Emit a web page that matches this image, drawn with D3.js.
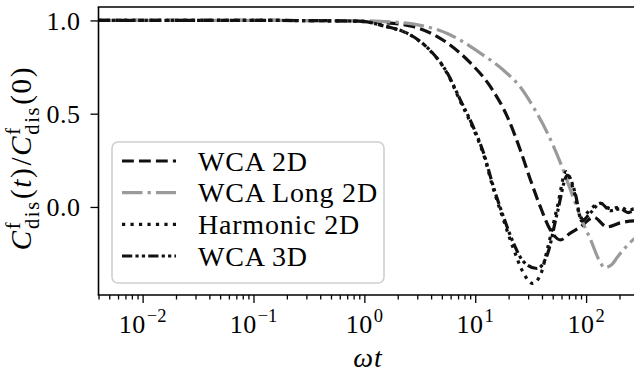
<!DOCTYPE html>
<html>
<head>
<meta charset="utf-8">
<script src="https://cdn.jsdelivr.net/npm/d3@7"></script>
<style>
  html, body { margin: 0; padding: 0; background: #fff; }
  svg { display: block; }
  text { font-family: "Liberation Serif", "DejaVu Serif", serif; fill: #000; }
</style>
</head>
<body>
<svg id="chart" width="634" height="372"></svg>
<script>
// Normalised dissipative force autocorrelation vs. omega*t, four systems.
const wca2dT    = [0.004, 0.1, 0.5, 1, 1.4, 2.8, 5.6, 9.05, 13.7, 19.5, 25.5, 31.5, 38.7, 47.6, 58.7, 72, 89, 117, 155, 204, 273, 300];
const wca2dC    = [1, 1, 0.999, 0.995, 0.99, 0.966, 0.879, 0.772, 0.645, 0.483, 0.305, 0.145, 0.0, -0.123, -0.177, -0.14, -0.107, -0.055, -0.107, -0.085, -0.075, -0.075];

const wcaLongT  = [0.004, 0.1, 1, 1.4, 2.8, 5.6, 11.1, 17.9, 25.5, 33.4, 44.8, 58.7, 72.3, 89.1, 110, 135, 146, 170, 191, 250, 300];
const wcaLongC  = [1, 1, 0.998, 0.995, 0.98, 0.93, 0.825, 0.734, 0.643, 0.536, 0.396, 0.236, 0.091, -0.054, -0.177, -0.30, -0.325, -0.31, -0.27, -0.19, -0.15];

const harmonicT = [0.004, 0.1, 0.7, 1, 1.4, 2.8, 3.9, 5.6, 7.35, 9.6, 11.9, 14.6, 18, 22, 27, 33, 39, 45, 55, 66, 78, 91, 110, 135, 166, 204, 240, 273, 300];
const harmonicC = [1, 1, 0.997, 0.994, 0.975, 0.91, 0.84, 0.715, 0.565, 0.42, 0.28, 0.095, -0.07, -0.22, -0.35, -0.41, -0.36, -0.22, 0.0, 0.19, 0.08, -0.06, -0.01, 0.02, -0.01, 0.0, -0.02, -0.01, -0.015];

const wca3dT    = [0.004, 0.1, 0.7, 1, 1.4, 2.8, 3.9, 5.6, 7.35, 9.6, 11.9, 14.6, 18, 22, 27, 36, 45, 55, 68, 80, 91, 110, 135, 166, 204, 240, 273, 300];
const wca3dC    = [1, 1, 0.997, 0.994, 0.975, 0.911, 0.841, 0.718, 0.573, 0.429, 0.289, 0.107, -0.054, -0.19, -0.29, -0.33, -0.25, -0.03, 0.17, 0.07, -0.075, -0.03, 0.02, -0.02, -0.01, -0.03, -0.02, -0.02];

const seriesNames  = ["WCA 2D", "WCA Long 2D", "Harmonic 2D", "WCA 3D"];
const seriesTimes  = [wca2dT, wcaLongT, harmonicT, wca3dT];
const seriesValues = [wca2dC, wcaLongC, harmonicC, wca3dC];

const xMajorTicks = [0.01, 0.1, 1, 10, 100];
const xMajorExps  = ["\u22122", "\u22121", "0", "1", "2"];
const yTicks      = [0, 0.5, 1.0];

// line styles (matplotlib-like dash patterns scaled by line width)
const LW = 3.2;
const styles = [
  { color: "#111", dash: [3.7 * LW, 1.6 * LW] },
  { color: "#9a9a9a", dash: [6.4 * LW, 1.6 * LW, 1 * LW, 1.6 * LW] },
  { color: "#111", dash: [1 * LW, 1.65 * LW] },
  { color: "#111", dash: [3.2 * LW, 1 * LW, 1 * LW, 1 * LW, 1 * LW, 1 * LW] }
];

const svg = d3.select("#chart");
const plotL = 98.5, plotR = 639, plotT = 7, plotB = 295;

const x = d3.scaleLog().domain([0.004, 300]).range([plotL, plotR]);
const y = d3.scaleLinear().domain([-0.472, 1.072]).range([plotB, plotT]);

svg.append("defs").append("clipPath").attr("id", "plotClip")
  .append("rect").attr("x", plotL).attr("y", plotT).attr("width", plotR - plotL).attr("height", plotB - plotT);

// curves
const line = d3.line()
  .x(d => x(d[0]))
  .y(d => y(d[1]))
  .curve(d3.curveMonotoneX);

const curves = svg.append("g").attr("clip-path", "url(#plotClip)");
seriesNames.forEach((name, i) => {
  const pts = seriesTimes[i].map((t, k) => [t, seriesValues[i][k]]);
  curves.append("path")
    .datum(pts)
    .attr("d", line)
    .attr("fill", "none")
    .attr("stroke", styles[i].color)
    .attr("stroke-width", LW)
    .attr("stroke-dasharray", styles[i].dash.join(","))
    .attr("stroke-linejoin", "round");
});

// x axis: major ticks
const xAxis = svg.append("g").attr("transform", `translate(0,${plotB})`);
xAxis.call(d3.axisBottom(x).tickValues(xMajorTicks).tickSize(8).tickFormat(""));
// minor ticks
const minor = [];
for (let e = -3; e <= 2; e++) {
  for (let m = 2; m <= 9; m++) {
    const v = m * Math.pow(10, e);
    if (v >= 0.004 && v <= 300) minor.push(v);
  }
}
xAxis.append("g").call(d3.axisBottom(x).tickValues(minor).tickSize(4.5).tickFormat(""));
xAxis.selectAll(".domain").remove();
xAxis.selectAll("line").attr("stroke", "#000").attr("stroke-width", 1.3);

// x tick labels: 10 with superscript exponent
xMajorTicks.forEach((v, i) => {
  const t = svg.append("text")
    .attr("x", x(v))
    .attr("y", 332.5)
    .attr("text-anchor", "middle")
    .attr("font-size", 26);
  t.append("tspan").attr("letter-spacing", 0.5).text("10");
  t.append("tspan").attr("dx", 1).attr("dy", -10.5).attr("font-size", 18.5).text(xMajorExps[i]);
});

// y axis
const yAxis = svg.append("g").attr("transform", `translate(${plotL},0)`);
yAxis.call(d3.axisLeft(y).tickValues(yTicks).tickSize(8).tickPadding(10).tickFormat(d3.format(".1f")));
yAxis.selectAll(".domain").remove();
yAxis.selectAll("line").attr("stroke", "#000").attr("stroke-width", 1.3);
yAxis.selectAll("text")
  .attr("font-size", 26)
  .attr("font-family", "Liberation Serif, DejaVu Serif, serif")
  .attr("letter-spacing", 0.5)
  .attr("dy", "0.34em");

// spines
svg.append("line").attr("x1", plotL).attr("x2", plotL).attr("y1", plotT).attr("y2", plotB)
  .attr("stroke", "#000").attr("stroke-width", 1.6);
svg.append("line").attr("x1", plotL - 0.8).attr("x2", 640).attr("y1", plotB).attr("y2", plotB)
  .attr("stroke", "#000").attr("stroke-width", 1.6);
svg.append("line").attr("x1", plotL - 0.8).attr("x2", 640).attr("y1", plotT).attr("y2", plotT)
  .attr("stroke", "#000").attr("stroke-width", 1.6);

// axis titles
svg.append("text")
  .attr("x", 368).attr("y", 366.5)
  .attr("text-anchor", "middle")
  .attr("font-size", 28)
  .attr("font-style", "italic")
  .attr("letter-spacing", 1)
  .text("\u03c9t");

// y label: C^f_dis(t) / C^f_dis(0), with stacked super/subscripts
const yl = svg.append("g").attr("transform", "translate(31,151) rotate(-90)");
const ylText = yl.append("text").attr("font-size", 29).attr("letter-spacing", 1.7);
function cTerm(arg) {
  ylText.append("tspan").attr("font-style", "italic").text("C");
  ylText.append("tspan").attr("font-size", 20.5).attr("dx", 0).attr("dy", -11.5).text("f");
  ylText.append("tspan").attr("font-size", 20.5).attr("dx", -8.5).attr("dy", 19).text("dis");
  ylText.append("tspan").attr("dx", 1).attr("dy", -7.5).text("(");
  const a = ylText.append("tspan").text(arg);
  if (arg === "t") a.attr("font-style", "italic");
  ylText.append("tspan").text(")");
}
cTerm("t");
ylText.append("tspan").attr("dx", 1).text("/");
cTerm("0");
const ylw = ylText.node().getComputedTextLength();
ylText.attr("x", -ylw / 2);

// legend
const legend = svg.append("g");
legend.append("rect")
  .attr("x", 112).attr("y", 142)
  .attr("width", 272).attr("height", 141)
  .attr("rx", 6).attr("ry", 6)
  .attr("fill", "#fff").attr("fill-opacity", 0.8)
  .attr("stroke", "#cfcfcf").attr("stroke-width", 1.6);
const rowY = d3.scalePoint().domain(seriesNames).range([161, 256]);
seriesNames.forEach((name, i) => {
  const cy = rowY(name);
  legend.append("line")
    .attr("x1", 122).attr("x2", 176)
    .attr("y1", cy).attr("y2", cy)
    .attr("stroke", styles[i].color)
    .attr("stroke-width", LW)
    .attr("stroke-dasharray", styles[i].dash.join(","));
  legend.append("text")
    .attr("x", 198).attr("y", cy + 9.5)
    .attr("font-size", 28)
    .attr("letter-spacing", 0.8)
    .text(name);
});
</script>
</body>
</html>
